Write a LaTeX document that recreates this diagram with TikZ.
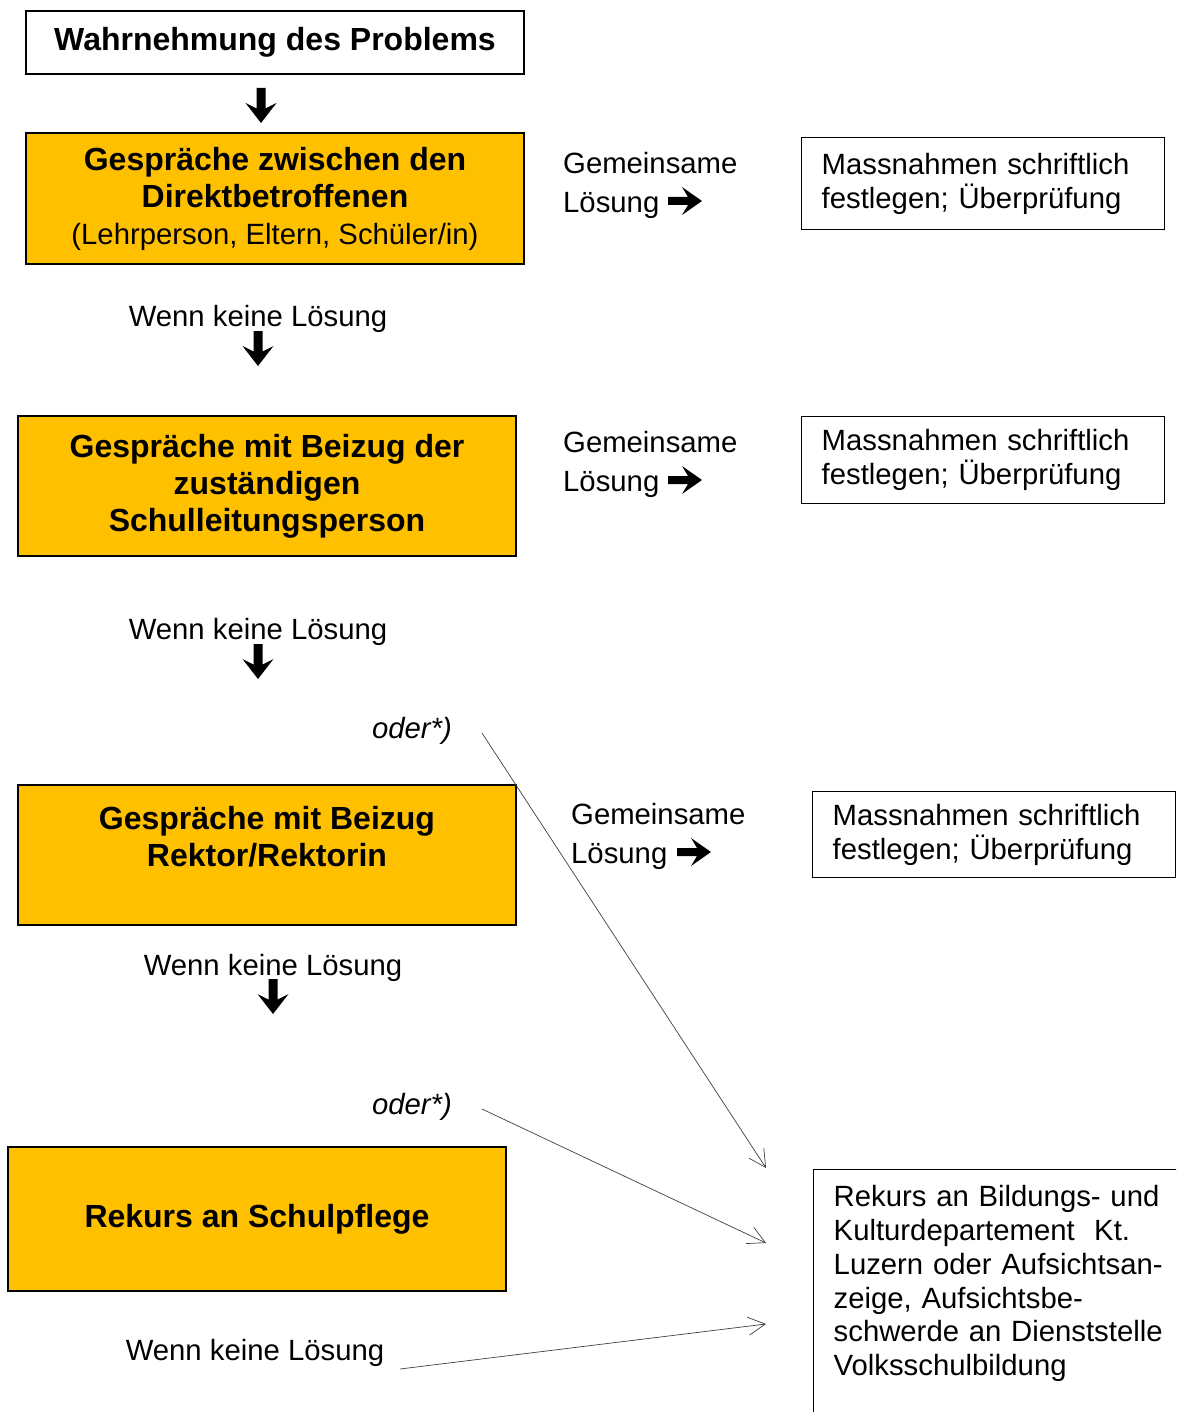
\documentclass[tikz,border=0pt]{standalone}
\usepackage{fontspec}
\setmainfont{Liberation Sans}
\usetikzlibrary{arrows.meta}
\definecolor{boxorange}{HTML}{FFC000}
\definecolor{linegray}{HTML}{404040}
\newcommand{\regfont}{\fontsize{29.3}{33.7}\selectfont}
\newcommand{\sidefont}{\fontsize{29.3}{39}\selectfont}
\newcommand{\boldfont}{\fontsize{32}{37}\selectfont\bfseries}
\begin{document}
\begin{tikzpicture}[x=1pt,y=-1pt,
  stage/.style={draw=black, line width=1.4pt, fill=boxorange, minimum width=498pt, align=center, font=\boldfont, inner sep=0pt},
  startbox/.style={draw=black, line width=1.4pt, minimum width=498pt, minimum height=63pt, font=\boldfont, inner sep=0pt},
  resultbox/.style={draw=black, line width=1.4pt, anchor=north west, text width=323pt, inner xsep=20pt, inner ysep=0pt, minimum height=92pt, align=left, font=\regfont},
  plain/.style={font=\regfont, inner sep=0pt},
  sidelabel/.style={font=\sidefont, inner sep=0pt, align=left, anchor=west},
  thinarrow/.style={draw=linegray, line width=0.7pt, -{Straight Barb[length=17pt,width=18pt,line width=0.7pt]}},
  downarrow/.pic={\fill[black] (-4.5,0) -- (-4.5,20.5) -- (-15.5,15) -- (0,35) -- (15.5,15) -- (4.5,20.5) -- (4.5,0) -- cycle;},
  rightarrow/.pic={\fill[black] (0,-4) -- (20,-4) -- (14,-14) -- (34,0) -- (14,14) -- (20,4) -- (0,4) -- cycle;},
]
\clip (0,0) rectangle (1176,1412);
\fill[white] (0,0) rectangle (1176,1412);

% stage 0
\node[startbox] (b1) at (275,42.5) {Wahrnehmung des Problems};
\pic at (261,88) {downarrow};

% stage 1
\node[stage, minimum height=131pt] (b2) at (275,198.5) {Gespräche zwischen den\\Direktbetroffenen\\{\regfont\mdseries (Lehrperson, Eltern, Schüler/in)}};
\node[sidelabel] (g1) at (563,185) {Gemeinsame\\Lösung};
\pic at (668,201) {rightarrow};
\node[resultbox] (r1) at (801,137) {Massnahmen schriftlich\\festlegen; Überprüfung};

\node[plain] (w1) at (258,319) {Wenn keine Lösung};
\pic at (258,331) {downarrow};

% stage 2
\node[stage, minimum height=140pt] (b3) at (267,486) {Gespräche mit Beizug der\\zuständigen\\Schulleitungsperson};
\node[sidelabel] (g2) at (563,464) {Gemeinsame\\Lösung};
\pic at (668,480) {rightarrow};
\node[resultbox, minimum height=87pt] (r2) at (801,416) {Massnahmen schriftlich\\festlegen; Überprüfung};

\node[plain] (w2) at (258,632) {Wenn keine Lösung};
\pic at (258,644) {downarrow};
\node[plain, anchor=east, font=\regfont\itshape] (o1) at (452,731) {oder*)};

% stage 3
\node[stage, minimum height=140pt] (b4) at (267,855) {Gespräche mit Beizug\\Rektor/Rektorin\\\mbox{}};
\node[sidelabel] (g3) at (571,836) {Gemeinsame\\Lösung};
\pic at (677,852) {rightarrow};
\node[resultbox, minimum height=86pt] (r3) at (812,791) {Massnahmen schriftlich\\festlegen; Überprüfung};

\node[plain] (w3) at (273,968) {Wenn keine Lösung};
\pic at (273,979) {downarrow};
\node[plain, anchor=east, font=\regfont\itshape] (o2) at (452,1107) {oder*)};

% stage 4
\node[stage, minimum height=144pt] (b5) at (257,1219) {Rekurs an Schulpflege};
\node[plain] (w4) at (255,1353) {Wenn keine Lösung};

% final box
\node[draw=black, line width=1.4pt, anchor=north west, text width=420pt, inner xsep=20pt, inner ysep=16pt, align=left, font=\regfont, text depth=300pt] (r4) at (813,1169) {Rekurs an Bildungs- und\\Kulturdepartement\ \ Kt.\\Luzern oder Aufsichtsan-\\zeige, Aufsichtsbe-\\schwerde an Dienststelle\\Volksschulbildung};

% connectors
\draw[thinarrow] ([shift={(30,2)}]o1.east) -- ([shift={(-47,-1)}]r4.north west);
\draw[thinarrow] ([shift={(30,2)}]o2.east) -- ([shift={(-47,74)}]r4.north west);
\draw[thinarrow] ([shift={(15.5,16)}]w4.east) -- ([shift={(-47,155)}]r4.north west);
\end{tikzpicture}
\end{document}
